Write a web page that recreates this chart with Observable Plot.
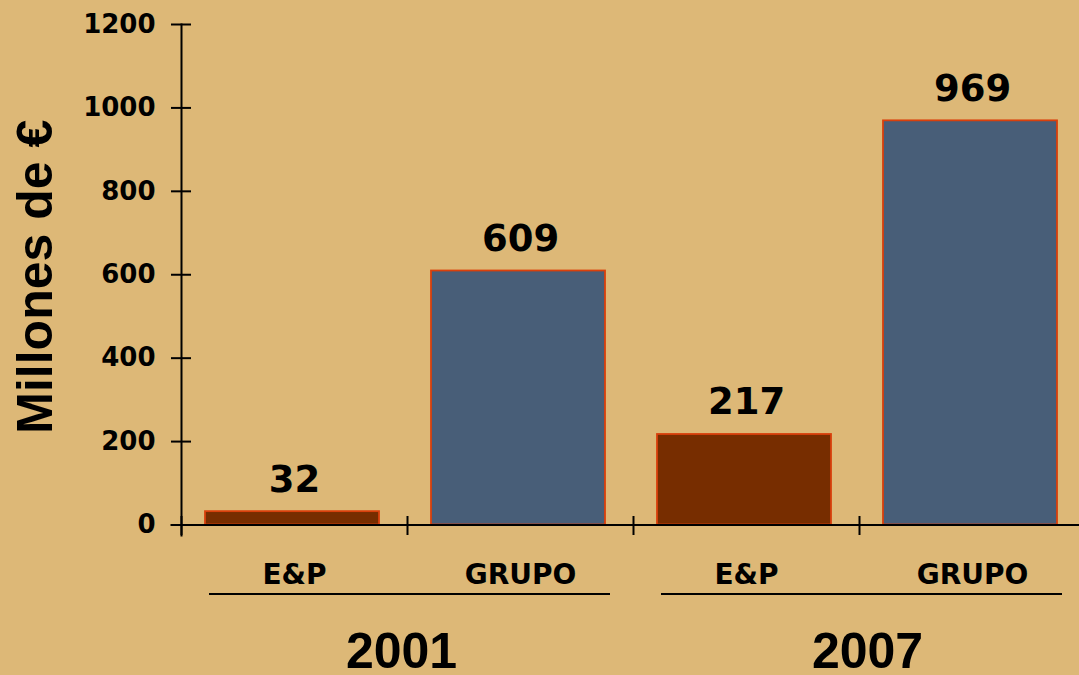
<!DOCTYPE html>
<html>
<head>
<meta charset="utf-8">
<script src="https://cdn.jsdelivr.net/npm/d3@7"></script>
<script src="https://cdn.jsdelivr.net/npm/@observablehq/plot@0.6"></script>
<style>
  html, body { margin: 0; padding: 0; background: #DDB877; }
  #chart { width: 1079px; height: 675px; overflow: hidden; }
</style>
</head>
<body>
<div id="chart"></div>
<script>
const years = ["2001", "2001", "2007", "2007"];
const segments = ["E&P", "GRUPO", "E&P", "GRUPO"];
const values = [32, 609, 217, 969];
const yTicks = [0, 200, 400, 600, 800, 1000, 1200];
const yearLabels = ["2001", "2007"];
const yTitle = "Millones de €";

const colors = {"E&P": "#772D00", "GRUPO": "#485E78"};

const data = years.map((y, i) => ({key: y + " " + segments[i], year: y, segment: segments[i], value: values[i]}));
const keys = data.map(d => d.key);
const groups = yearLabels.map(y => ({
  year: y,
  first: keys.find(k => k.startsWith(y)),
  last: keys.filter(k => k.startsWith(y)).at(-1)
}));

const W = 1079, H = 675, mL = 181, mT = 24, mB = 150.5;
const step = (1085 - mL) / keys.length;

const yearText = {
  x: "first", y: () => 0, text: "year",
  dy: 143, lineAnchor: "bottom",
  fontSize: 50, fontWeight: "bold", fontFamily: "Liberation Sans", fill: "black"
};

const plot = Plot.plot({
  width: W,
  height: H,
  marginLeft: mL,
  marginRight: 0,
  marginTop: mT,
  marginBottom: mB,
  style: {background: "#DDB877", color: "black", overflow: "visible"},
  x: {type: "band", domain: keys, range: [mL, 1085], padding: 0, axis: null},
  y: {domain: [0, 1200], axis: null},
  marks: [
    Plot.barY(data, {
      x: "key", y: "value",
      fill: d => colors[d.segment],
      stroke: "#D9400C", strokeWidth: 1.8,
      insetLeft: 24, insetRight: 28
    }),
    // y axis
    Plot.axisY({
      ticks: yTicks, tickSize: 20, dx: 10, tickPadding: 16,
      tickFormat: d => String(d),
      fontSize: 26, fontWeight: "bold", fontFamily: "DejaVu Sans",
      stroke: "black", strokeWidth: 2, label: null
    }),
    Plot.frame({anchor: "left", stroke: "black", strokeWidth: 2, insetBottom: -10.5}),
    Plot.frame({anchor: "bottom", stroke: "black", strokeWidth: 2, insetLeft: -10}),
    // x dividers
    Plot.tickX(keys, {x: d => d, dx: -step / 2, stroke: "black", strokeWidth: 2, insetTop: 492, insetBottom: -10.5}),
    // value labels
    Plot.text(data, {
      x: "key", y: "value", text: d => String(d.value),
      dy: -20, lineAnchor: "bottom",
      fontSize: 37, fontWeight: "bold", fontFamily: "DejaVu Sans", fill: "black"
    }),
    // segment labels
    Plot.text(data, {
      x: "key", y: () => 0, text: "segment",
      dy: 58.5, lineAnchor: "bottom",
      fontSize: 28, fontWeight: "bold", fontFamily: "DejaVu Sans", fill: "black"
    }),
    // group underlines
    Plot.ruleY(groups, {
      y: () => 0, x1: "first", x2: "last", dy: 69,
      stroke: "black", strokeWidth: 2, insetLeft: 28, insetRight: 23
    }),
    // year labels
    Plot.text(groups.slice(0, 1), {...yearText, dx: step / 2 - 6}),
    Plot.text(groups.slice(1), {...yearText, dx: step / 2 + 8}),
    // y title
    Plot.text([yTitle], {
      frameAnchor: "left", text: d => d, rotate: -90, textAnchor: "middle", lineAnchor: "middle",
      dx: -146, dy: 2, fontSize: 50, fontWeight: "bold", fontFamily: "Liberation Sans", fill: "black"
    })
  ]
});
document.getElementById("chart").appendChild(plot);
</script>
</body>
</html>
